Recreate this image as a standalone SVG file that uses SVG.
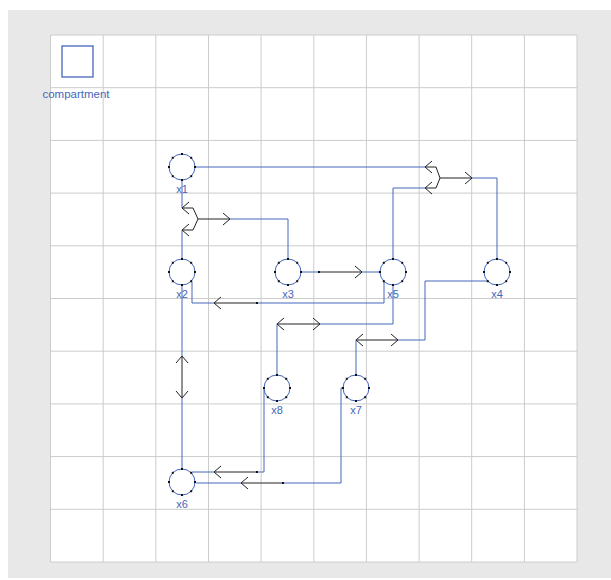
<svg xmlns="http://www.w3.org/2000/svg" width="611" height="580" viewBox="0 0 611 580">
<style>
.grid{stroke:#cccccc;stroke-width:1;fill:none}
.b{stroke:#4466bb;stroke-width:1;fill:none}
.k{stroke:#222222;stroke-width:1;fill:none}
.node circle{fill:#ffffff;stroke:#4466bb;stroke-width:1}
.lbl{font-family:"Liberation Sans",Arial,sans-serif;font-size:11px;fill:#4466bb;text-anchor:middle}
.dot{fill:#111111}
</style>
<defs>
<marker id="ah" markerUnits="userSpaceOnUse" markerWidth="16" markerHeight="16" refX="8" refY="8" orient="auto-start-reverse" viewBox="0 0 16 16">
<path d="M1,2 L8,8 L1,14" fill="none" stroke="#222222" stroke-width="1"/>
</marker>
<g id="dots">
<rect x="-1" y="-14" width="2" height="2"/>
<rect x="-1" y="12" width="2" height="2"/>
<rect x="-14" y="-1" width="2" height="2"/>
<rect x="12" y="-1" width="2" height="2"/>
<rect x="-10.2" y="-10.2" width="2" height="2"/>
<rect x="8.2" y="-10.2" width="2" height="2"/>
<rect x="-10.2" y="8.2" width="2" height="2"/>
<rect x="8.2" y="8.2" width="2" height="2"/>
</g>
</defs>
<rect x="8" y="10" width="603" height="568" fill="#e8e8e8"/>
<rect x="50.5" y="35" width="526.5" height="527" fill="#ffffff"/>
<g id="grid" class="grid">
<path d="M50.5,35V562M103.2,35V562M155.8,35V562M208.5,35V562M261.1,35V562M313.8,35V562M366.4,35V562M419.1,35V562M471.7,35V562M524.4,35V562M577,35V562"/>
<path d="M50.5,35H577M50.5,87.7H577M50.5,140.4H577M50.5,193.1H577M50.5,245.8H577M50.5,298.5H577M50.5,351.2H577M50.5,403.9H577M50.5,456.6H577M50.5,509.3H577M50.5,562H577"/>
</g>
<g id="compartment">
<rect x="62" y="46" width="31" height="31" fill="none" stroke="#4466bb" stroke-width="1.3"/>
<text class="lbl" x="76" y="98" font-size="11.5" style="font-size:11.5px">compartment</text>
</g>
<g id="connectors">
<!-- x1 + x5 <-> x4 -->
<path class="b" d="M195,167 L425,167 M393,259 L393,188 L425,188 M472,178 L497,178 L497,259"/>
<path class="k" d="M425,167 L436,167 L440,178" marker-start="url(#ah)"/>
<path class="k" d="M425,188 L436,188 L440,178" marker-start="url(#ah)"/>
<path class="k" d="M440,178 L472,178" marker-end="url(#ah)"/>
<!-- x1 + x2 <-> x3 -->
<path class="b" d="M182,180 L182,208 M182,259 L182,230 M230,219 L288,219 L288,259"/>
<path class="k" d="M182,208 L193,208 L198,219" marker-start="url(#ah)"/>
<path class="k" d="M182,230 L193,230 L198,219" marker-start="url(#ah)"/>
<path class="k" d="M198,219 L230,219" marker-end="url(#ah)"/>
<!-- x3 -> x5 -->
<path class="b" d="M301,272 L319,272 M362,272 L380,272"/>
<path class="k" d="M319,272 L362,272" marker-end="url(#ah)"/>
<rect class="dot" x="318" y="271" width="2" height="2"/>
<!-- x5 -> x2 -->
<path class="b" d="M192,282 L192,303 L214,303 M257,303 L384,303 L384,282"/>
<path class="k" d="M257,303 L214,303" marker-end="url(#ah)"/>
<rect class="dot" x="256" y="302" width="2" height="2"/>
<!-- x5 <-> x8 -->
<path class="b" d="M393,285 L393,324 L320,324 M277,324 L277,375"/>
<path class="k" d="M277,324 L320,324" marker-start="url(#ah)" marker-end="url(#ah)"/>
<!-- x4 <-> x7 -->
<path class="b" d="M488,281 L425,281 L425,340 L398,340 M356,340 L356,375"/>
<path class="k" d="M356,340 L398,340" marker-start="url(#ah)" marker-end="url(#ah)"/>
<!-- x2 <-> x6 -->
<path class="b" d="M182,285 L182,356 M182,398 L182,469"/>
<path class="k" d="M182,356 L182,398" marker-start="url(#ah)" marker-end="url(#ah)"/>
<!-- x8 -> x6 -->
<path class="b" d="M264,388 L264,472 L257,472 M214,472 L192,472"/>
<path class="k" d="M257,472 L214,472" marker-end="url(#ah)"/>
<rect class="dot" x="256" y="471" width="2" height="2"/>
<!-- x7 -> x6 -->
<path class="b" d="M343,388 L341,388 L341,483 L283,483 M241,483 L196,483"/>
<path class="k" d="M283,483 L241,483" marker-end="url(#ah)"/>
<rect class="dot" x="282" y="482" width="2" height="2"/>
</g>
<g id="x1" class="node"><circle cx="182" cy="167" r="13"/><use href="#dots" x="182" y="167" class="dot"/><text class="lbl" x="182" y="193">x1</text></g>
<g id="x2" class="node"><circle cx="182" cy="272" r="13"/><use href="#dots" x="182" y="272" class="dot"/><text class="lbl" x="182" y="298">x2</text></g>
<g id="x3" class="node"><circle cx="288" cy="272" r="13"/><use href="#dots" x="288" y="272" class="dot"/><text class="lbl" x="288" y="298">x3</text></g>
<g id="x5" class="node"><circle cx="393" cy="272" r="13"/><use href="#dots" x="393" y="272" class="dot"/><text class="lbl" x="393" y="298">x5</text></g>
<g id="x4" class="node"><circle cx="497" cy="272" r="13"/><use href="#dots" x="497" y="272" class="dot"/><text class="lbl" x="497" y="298">x4</text></g>
<g id="x8" class="node"><circle cx="277" cy="388" r="13"/><use href="#dots" x="277" y="388" class="dot"/><text class="lbl" x="277" y="414">x8</text></g>
<g id="x7" class="node"><circle cx="356" cy="388" r="13"/><use href="#dots" x="356" y="388" class="dot"/><text class="lbl" x="356" y="414">x7</text></g>
<g id="x6" class="node"><circle cx="182" cy="482" r="13"/><use href="#dots" x="182" y="482" class="dot"/><text class="lbl" x="182" y="508">x6</text></g>
</svg>
